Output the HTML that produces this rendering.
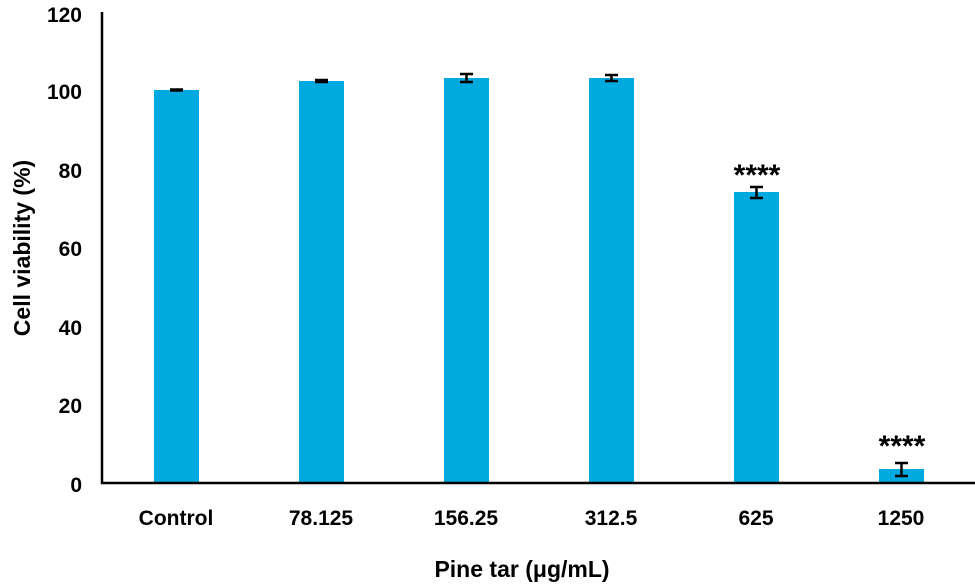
<!DOCTYPE html><html><head><style>body{margin:0;background:#fff}</style></head><body>
<svg width="975" height="582" xmlns="http://www.w3.org/2000/svg" font-family="Liberation Sans, sans-serif" font-weight="bold">
<g fill="#00aade">
<rect x="154" y="90" width="45" height="393"/>
<rect x="299" y="81" width="45" height="402"/>
<rect x="444" y="78" width="45" height="405"/>
<rect x="589" y="78" width="45" height="405"/>
<rect x="734" y="192" width="45" height="291"/>
<rect x="879" y="469" width="45" height="14"/>
</g>
<g stroke="#000" stroke-width="2.5" fill="none">
<path d="M102 12V484M101 483H975"/>
<path d="M170 89.5h13M170 90.5h13"/>
<path d="M315 80h13M315 82h13M321 80v2"/>
<path d="M460 74h13M460 82h13M466.5 74v8"/>
<path d="M605 75h13M605 81h13M611.5 75v6"/>
<path d="M750 187h13M750 198h13M756.5 187v11"/>
<path d="M895 463h13M895 476h13M901.5 463v13"/>
</g>
<g font-size="21" text-anchor="middle">
<text x="176" y="525">Control</text><text x="321" y="525">78.125</text><text x="466" y="525">156.25</text>
<text x="611" y="525">312.5</text><text x="756" y="525">625</text><text x="901" y="525">1250</text>
<text x="757" y="185" font-size="30">****</text><text x="902" y="456" font-size="30">****</text>
<text x="522" y="577" font-size="23">Pine tar (μg/mL)</text>
<text transform="translate(30 248) rotate(-90)" font-size="23">Cell viability (%)</text>
</g>
<g font-size="21" text-anchor="end">
<text x="82" y="22">120</text><text x="82" y="99">100</text><text x="82" y="178">80</text>
<text x="82" y="256">60</text><text x="82" y="335">40</text><text x="82" y="413">20</text><text x="82" y="492">0</text>
</g>
</svg>
</body></html>
